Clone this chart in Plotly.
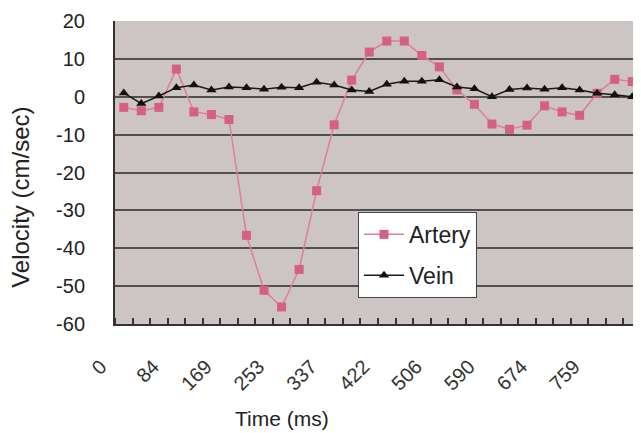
import plotly.graph_objects as go

# samples every ~28 ms, labelled every third one
time_labels = ["0", "84", "169", "253", "337", "422", "506", "590", "674", "759"]
sample_idx = list(range(30))

velocity_ticks = [20, 10, 0, -10, -20, -30, -40, -50, -60]
velocity_labels = ["20", "10", "0", "-10", "-20", "-30", "-40", "-50", "-60"]

artery = [-2.8, -3.7, -2.8, 7.3, -4.0, -4.7, -6.0, -36.6, -51.1, -55.5,
          -45.6, -24.8, -7.4, 4.4, 11.8, 14.7, 14.7, 10.9, 7.9, 1.8,
          -2.0, -7.2, -8.6, -7.5, -2.4, -4.0, -4.9, 0.9, 4.6, 4.0]
vein = [1.0, -1.8, 0.2, 2.4, 3.1, 1.8, 2.6, 2.4, 2.0, 2.5,
        2.4, 3.8, 3.1, 1.8, 1.4, 3.3, 4.1, 4.1, 4.5, 2.6,
        2.1, 0.0, 1.9, 2.3, 2.0, 2.4, 1.8, 0.9, 0.5, 0.0]

font_name = "Liberation Sans, Arial, sans-serif"

fig = go.Figure()
fig.add_trace(go.Scatter(
    x=sample_idx, y=artery, name="Artery", mode="lines+markers",
    legendgroup="a",
    line=dict(color="#e07c9c", width=1.5),
    marker=dict(symbol="square", size=9, color="#d65f86"),
))
fig.add_trace(go.Scatter(
    x=sample_idx, y=vein, name="Vein", mode="lines+markers",
    legendgroup="v",
    line=dict(color="#1a1a1a", width=1.5),
    marker=dict(symbol="triangle-up", size=9, color="#111111"),
))

# page body has an 8px margin, so the figure is a bit smaller than the window
fig.update_layout(
    width=633, height=425,
    margin=dict(l=107, r=0, t=13, b=109),
    paper_bgcolor="white",
    plot_bgcolor="#cdc5c4",
    font=dict(family=font_name, size=20, color="#222222"),
    legend=dict(
        x=0.462, y=0.37, xanchor="left", yanchor="top",
        bgcolor="white", bordercolor="#444444", borderwidth=1,
        font=dict(size=23, color="#222222"),
        traceorder="grouped", tracegroupgap=8,
        itemwidth=40,
    ),
    annotations=[
        dict(text="Velocity (cm/sec)", xref="paper", yref="paper",
             x=-0.181, y=0.419, xanchor="center", yanchor="middle",
             textangle=-90, showarrow=False,
             font=dict(size=24, color="#222222")),
        dict(text="Time (ms)", xref="paper", yref="paper",
             x=0.317, y=-0.312, xanchor="center", yanchor="middle",
             showarrow=False,
             font=dict(size=21, color="#222222")),
    ],
)

fig.update_xaxes(
    range=[-0.5, 29.5], automargin=False,
    tickmode="array", tickvals=sample_idx[::3], ticktext=time_labels,
    tickangle=-45, ticks="", showgrid=False,
    ticklabelshift=-23, ticklabelstandoff=21,
    tickfont=dict(size=20, color="#333333"),
    showline=True, linecolor="#333333", linewidth=2,
    minor=dict(tickmode="linear", tick0=-0.5, dtick=1, ticks="inside",
               ticklen=6, tickwidth=1.5, tickcolor="#333333", showgrid=False),
    zeroline=False,
)
fig.update_yaxes(
    range=[-60, 20], automargin=False,
    tickmode="array", tickvals=velocity_ticks, ticktext=velocity_labels,
    showgrid=True, gridcolor="#505050", gridwidth=2,
    showline=True, linecolor="#333333", linewidth=2,
    zeroline=False, ticks="", ticklabelstandoff=24,
)

fig.write_html("out.html")
